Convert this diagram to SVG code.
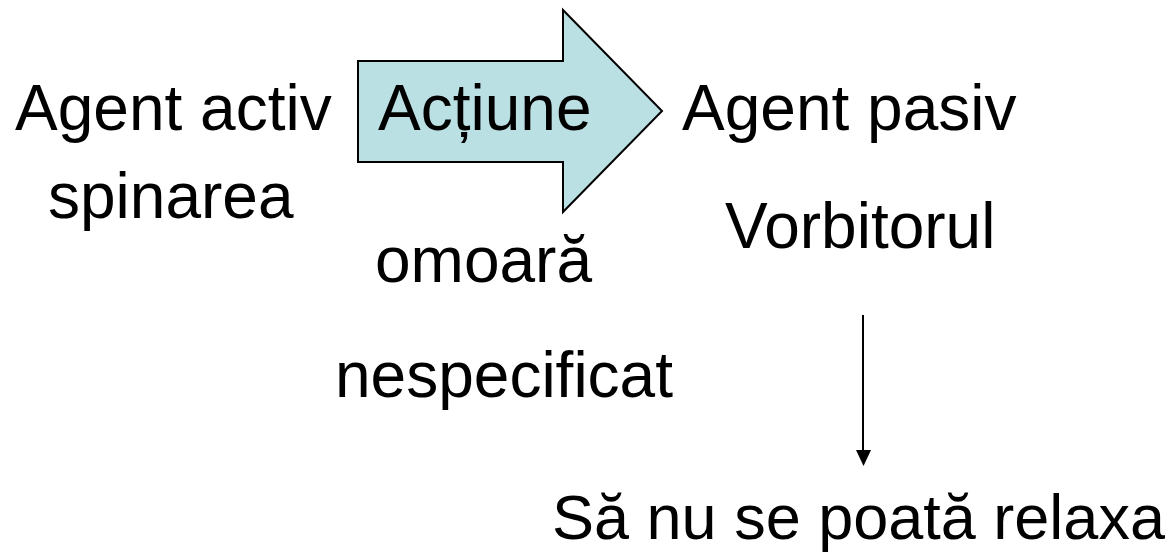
<svg xmlns="http://www.w3.org/2000/svg" width="1176" height="553" viewBox="0 0 1176 553">
<style>
text{font-family:"Liberation Sans",Arial,sans-serif;font-size:64px;fill:#000}
.shape{fill:#BBE0E3;stroke:#000;stroke-width:2}
.conn{stroke:#000;stroke-width:2;fill:none}
</style>
<rect width="1176" height="553" fill="#fff"/>
<g id="actiune">
<polygon class="shape" points="358,61 563,61 563,10 662,111 563,212 563,162 358,162"/>
<text x="378" y="130">Acțiune</text>
</g>
<g id="agent-activ"><text x="15" y="130">Agent activ</text></g>
<g id="spinarea"><text x="48" y="218">spinarea</text></g>
<g id="agent-pasiv"><text x="682" y="130">Agent pasiv</text></g>
<g id="vorbitorul"><text x="725" y="248">Vorbitorul</text></g>
<g id="omoara"><text x="375" y="282">omoară</text></g>
<g id="nespecificat"><text x="335" y="397">nespecificat</text></g>
<g id="relaxa"><text x="552" y="539" style="font-size:63px">Să nu se poată relaxa</text></g>
<g id="connectors">
<line class="conn" x1="863" y1="315" x2="863" y2="450"/>
<polygon points="856,450 871,450 863.5,466" fill="#000"/>
</g>
</svg>
